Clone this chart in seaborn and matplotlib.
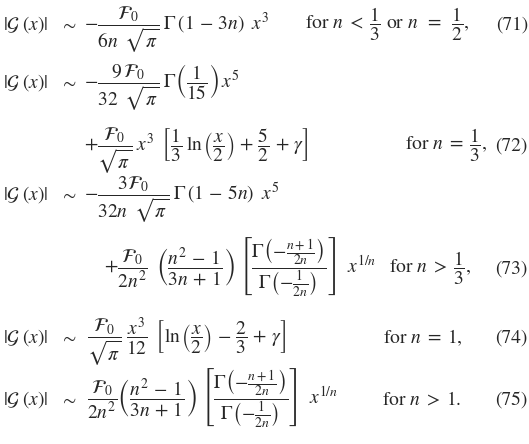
import matplotlib
matplotlib.use('Agg')
import matplotlib.pyplot as plt
import seaborn as sns

sns.set_theme(style='white')
plt.rcParams['font.family'] = ['STIXGeneral', 'DejaVu Serif']
plt.rcParams['mathtext.fontset'] = 'stix'

G = r'|\mathcal{G}\;(x)|'
F = r'\mathcal{F}_0'
ratio = (r'\left[\dfrac{\Gamma\left(-\frac{n+1}{2n}\right)}'
         r'{\Gamma\left(-\frac{1}{2n}\right)}\right]')
bracket = r'\left(\dfrac{n^2\,-\,1}{3n\,+\,1}\right)'

# the seven lines of the equation array
lhs = [G, G, None, G, None, G, G]
rhs = [
    r'-\dfrac{' + F + r'}{6n\;\;\sqrt{\pi}}\;\Gamma\,(1\,-\,3n)\;\;x^3',
    r'-\dfrac{9\,' + F + r'}{32\;\;\sqrt{\pi}}\;\Gamma\left(\dfrac{1}{15}\right)\,x^5',
    r'+\dfrac{' + F + r'}{\sqrt{\pi}}\;x^3\;\;\left[\dfrac{1}{3}\;\ln\left(\dfrac{x}{2}\right)'
    r'\,+\,\dfrac{5}{2}\,+\,\gamma\right]',
    r'-\dfrac{3' + F + r'}{32n\;\;\sqrt{\pi}}\;\Gamma\,(1\,-\,5n)\;\;x^5',
    r'+\dfrac{' + F + r'}{2n^2}\;\;' + bracket + r'\;' + ratio + r'\;\;x^{1/n}',
    r'\dfrac{' + F + r'}{\sqrt{\pi}}\;\dfrac{x^3}{12}\;\;\left[\ln\left(\dfrac{x}{2}\right)'
    r'\,-\,\dfrac{2}{3}\,+\,\gamma\right]',
    r'\dfrac{' + F + r'}{2n^2}' + bracket + r'\;' + ratio + r'\;\;x^{1/n}',
]
conditions = [
    r'for $n\;<\;\dfrac{1}{3}$ or $n\;\;=\;\;\dfrac{1}{2},$',
    None,
    r'for $n\;=\;\dfrac{1}{3},$',
    None,
    r'for $n\;>\;\dfrac{1}{3},$',
    r'for $n\;=\;1,$',
    r'for $n\;>\;1.$',
]
eq_numbers = ['(71)', None, '(72)', None, '(73)', '(74)', '(75)']

# layout in pixels
W, H = 529, 444
baseline_y = [30, 88, 151, 200, 274, 343, 405]
rhs_x = [84, 84, 84, 84, 104, 87, 87]
cond_x = [305, None, 405, None, 389, 383, 382]
fs = 14

fig = plt.figure(figsize=(W / 100, H / 100), dpi=100)
fig.patch.set_facecolor('white')


def px(x, y):
    return x / W, 1 - y / H


for i in range(len(rhs)):
    base = baseline_y[i]
    if lhs[i]:
        fig.text(*px(3, base), '$' + lhs[i] + '$', fontsize=fs, va='baseline', ha='left')
        fig.text(*px(69, base), r'$\sim$', fontsize=fs, va='baseline', ha='center')
    fig.text(*px(rhs_x[i], base), '$' + rhs[i] + '$', fontsize=fs, va='baseline', ha='left')
    if conditions[i]:
        fig.text(*px(cond_x[i], base), conditions[i], fontsize=fs, va='baseline', ha='left')
    if eq_numbers[i]:
        fig.text(*px(528, base), eq_numbers[i], fontsize=fs, va='baseline', ha='right')

fig.savefig('out.png', dpi=100, facecolor='white')
